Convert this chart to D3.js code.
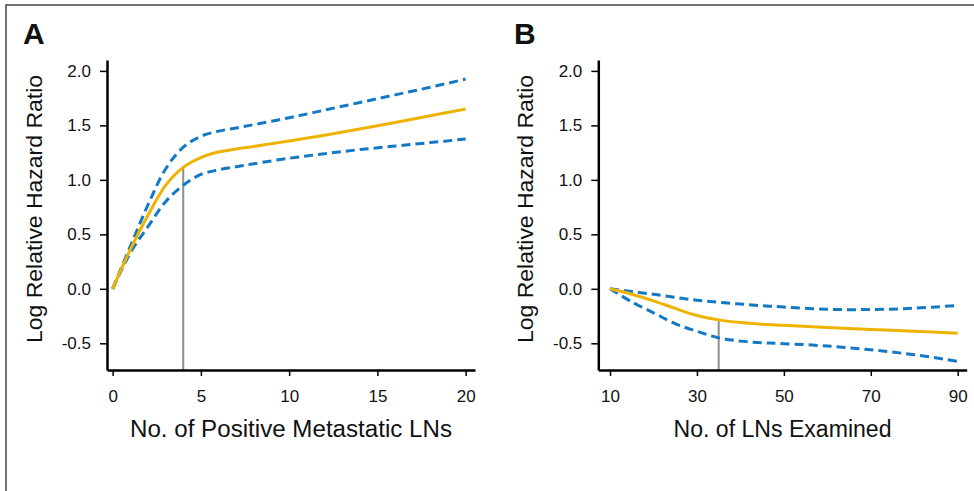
<!DOCTYPE html>
<html>
<head>
<meta charset="utf-8">
<script src="https://cdn.jsdelivr.net/npm/d3@7"></script>
<style>
  html, body { margin: 0; padding: 0; background: #fff; }
  svg { display: block; }
  text { font-family: "Liberation Sans", Arial, Helvetica, sans-serif; fill: #111; }
</style>
</head>
<body>
<svg id="chart" width="974" height="491"></svg>
<script>
// ---------- Data ----------
// Panel A: No. of positive metastatic LNs
const xA = [0, 1, 2, 3, 4, 5, 6, 7, 8, 10, 12, 14, 16, 18, 20];
const estA = [0, 0.36, 0.675, 0.95, 1.115, 1.205, 1.255, 1.283, 1.307, 1.357, 1.41, 1.467, 1.527, 1.588, 1.65];
const upperA = [0, 0.39, 0.77, 1.1, 1.3, 1.4, 1.447, 1.476, 1.507, 1.57, 1.64, 1.71, 1.78, 1.85, 1.925];
const lowerA = [0, 0.33, 0.57, 0.8, 0.95, 1.05, 1.092, 1.12, 1.148, 1.198, 1.24, 1.278, 1.31, 1.342, 1.375];
const refA = 4;

// Panel B: No. of LNs examined
const xB = [10, 15, 20, 25, 30, 35, 40, 45, 50, 60, 70, 80, 90];
const estB = [0, -0.05, -0.11, -0.18, -0.245, -0.285, -0.31, -0.325, -0.335, -0.355, -0.373, -0.39, -0.408];
const upperB = [0, -0.025, -0.05, -0.078, -0.105, -0.124, -0.14, -0.155, -0.167, -0.188, -0.19, -0.178, -0.152];
const lowerB = [0, -0.12, -0.22, -0.32, -0.39, -0.45, -0.48, -0.495, -0.503, -0.525, -0.56, -0.605, -0.665];
const refB = 35;

const yTicks = [-0.5, 0, 0.5, 1.0, 1.5, 2.0];
const xTicksA = [0, 5, 10, 15, 20];
const xTicksB = [10, 30, 50, 70, 90];

const panels = [
  { letter: "A", xs: xA, est: estA, up: upperA, lo: lowerA, ref: refA,
    xDomain: [-0.32, 20.53], xRange: [107, 475], xTicks: xTicksA,
    xTitle: "No. of Positive Metastatic LNs", xTitleWidth: 322, letterX: 23 },
  { letter: "B", xs: xB, est: estB, up: upperB, lo: lowerB, ref: refB,
    xDomain: [7.3, 92.07], xRange: [598.3, 966.7], xTicks: xTicksB,
    xTitle: "No. of LNs Examined", xTitleWidth: 218, letterX: 514 }
];

const yTitle = "Log Relative Hazard Ratio";
const colors = { est: "#EDB300", ci: "#1479C4", ref: "#8E8E8E" };

// ---------- Drawing ----------
const svg = d3.select("#chart");

// frame (top and left edges)
svg.append("path")
  .attr("d", "M6,491 V5 H974")
  .attr("fill", "none").attr("stroke", "#444").attr("stroke-width", 1.5);

const y = d3.scaleLinear().domain([-0.745, 2.1]).range([370, 60]);
const fmtY = d => d3.format(".1f")(d).replace("\u2212", "-");

panels.forEach(p => {
  const x = d3.scaleLinear().domain(p.xDomain).range(p.xRange);
  const g = svg.append("g");

  // reference vertical line up to the estimate curve
  const refVal = p.est[p.xs.indexOf(p.ref)];
  g.append("line")
    .attr("x1", x(p.ref)).attr("x2", x(p.ref))
    .attr("y1", y.range()[0]).attr("y2", y(refVal))
    .attr("stroke", colors.ref).attr("stroke-width", 2);

  const line = d3.line().x(d => x(d[0])).y(d => y(d[1])).curve(d3.curveCatmullRom.alpha(0.5));
  const zip = vals => p.xs.map((v, i) => [v, vals[i]]);

  g.append("path").datum(zip(p.up)).attr("d", line)
    .attr("fill", "none").attr("stroke", colors.ci).attr("stroke-width", 3)
    .attr("stroke-dasharray", "9,5");
  g.append("path").datum(zip(p.lo)).attr("d", line)
    .attr("fill", "none").attr("stroke", colors.ci).attr("stroke-width", 3)
    .attr("stroke-dasharray", "9,5");
  g.append("path").datum(zip(p.est)).attr("d", line)
    .attr("fill", "none").attr("stroke", colors.est).attr("stroke-width", 3);

  // y axis
  const yAxis = g.append("g")
    .attr("transform", `translate(${p.xRange[0]},0)`)
    .call(d3.axisLeft(y).tickValues(yTicks).tickFormat(fmtY)
      .tickSize(7).tickSizeOuter(0).tickPadding(9));
  // x axis
  const xAxis = g.append("g")
    .attr("transform", `translate(0,${y.range()[0]})`)
    .call(d3.axisBottom(x).tickValues(p.xTicks).tickFormat(d3.format("d"))
      .tickSize(6).tickSizeOuter(0).tickPadding(14));

  [yAxis, xAxis].forEach(ax => {
    ax.attr("font-family", null).attr("font-size", null);
    ax.select(".domain").attr("stroke", "#000").attr("stroke-width", 2.5);
    ax.selectAll(".tick line").attr("stroke", "#000").attr("stroke-width", 1.5);
    ax.selectAll(".tick text").style("font-size", "17px").attr("fill", "#111");
  });

  // axis titles
  g.append("text")
    .attr("x", (p.xRange[0] + p.xRange[1]) / 2)
    .attr("y", 437)
    .attr("text-anchor", "middle")
    .attr("textLength", p.xTitleWidth)
    .attr("lengthAdjust", "spacingAndGlyphs")
    .style("font-family", "'Liberation Sans Narrow', 'Arial Narrow', 'Liberation Sans', sans-serif")
    .style("font-size", "23.5px")
    .text(p.xTitle);

  g.append("text")
    .attr("transform", `translate(${p.xRange[0] - 65},209) rotate(-90)`)
    .attr("text-anchor", "middle")
    .attr("textLength", 268)
    .attr("lengthAdjust", "spacingAndGlyphs")
    .style("font-size", "21.5px")
    .text(yTitle);

  // panel letter
  g.append("text")
    .attr("x", p.letterX).attr("y", 44)
    .style("font-size", "30px").style("font-weight", "bold")
    .attr("fill", "#000")
    .text(p.letter);
});
</script>
</body>
</html>
